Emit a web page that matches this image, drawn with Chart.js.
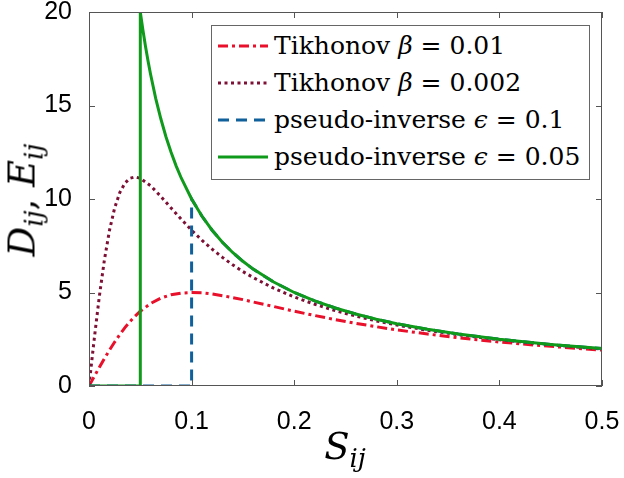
<!DOCTYPE html>
<html>
<head>
<meta charset="utf-8">
<script src="https://cdn.jsdelivr.net/npm/chart.js@4"></script>
<style>
  body { margin: 0; background: #fff; }
  #wrap { position: relative; width: 624px; height: 478px; }
  #c { position: absolute; left: 0; top: 0; }
  .title { position: absolute; font-family: "DejaVu Serif", serif; font-style: italic; color: #000; white-space: nowrap; line-height: 1; }
  .title sub { font-size: 0.7em; vertical-align: -0.3em; line-height: 0; }
  #ytitle { left: 22px; top: 200px; font-size: 37px; transform: translate(-50%, -50%) rotate(-90deg); }
  #xtitle { left: 345px; top: 428px; font-size: 37px; transform: translateX(-50%); }
  #legend { position: absolute; left: 211px; top: 25px; width: 379px; height: 155px; border: 1px solid #666; background: #fff; padding-top: 1px; box-sizing: border-box; }
  .row { height: 37px; display: flex; align-items: center; white-space: nowrap; }
  .row span { font-family: "DejaVu Serif", serif; font-size: 25px; color: #000; }
  .row svg { margin-left: 6px; margin-right: 6px; flex: none; }
</style>
</head>
<body>
<div id="wrap">
  <canvas id="c" width="624" height="478"></canvas>
  <div id="ytitle" class="title">D<sub>ij</sub><span style="font-style:normal">,</span> E<sub>ij</sub></div>
  <div id="xtitle" class="title">S<sub>ij</sub></div>
  <div id="legend"></div>
</div>
<script>
// axis ticks
const xTicks = [0, 0.1, 0.2, 0.3, 0.4, 0.5];
const yTicks = [0, 5, 10, 15, 20];

// Tikhonov curves
const sTik = [0, 0.005, 0.01, 0.015, 0.02, 0.025, 0.03, 0.035, 0.04, 0.045, 0.05, 0.06, 0.07, 0.08, 0.09, 0.1,
  0.11, 0.12, 0.13, 0.14, 0.15, 0.16, 0.18, 0.2, 0.22, 0.24, 0.26, 0.28, 0.3, 0.33, 0.36, 0.4, 0.45, 0.5];
const tikBeta01 = [0, 0.50, 0.99, 1.47, 1.92, 2.35, 2.75, 3.12, 3.45, 3.74, 4.00, 4.41, 4.70, 4.88, 4.97, 5.00,
  4.98, 4.92, 4.83, 4.73, 4.62, 4.49, 4.25, 4.00, 3.77, 3.55, 3.35, 3.17, 3.00, 2.78, 2.58, 2.35, 2.12, 1.92];
const tikBeta002 = [0, 2.47, 4.76, 6.74, 8.33, 9.52, 10.34, 10.85, 11.11, 11.18, 11.11, 10.71, 10.14, 9.52, 8.91, 8.33,
  7.80, 7.32, 6.88, 6.48, 6.12, 5.80, 5.23, 4.76, 4.37, 4.03, 3.74, 3.48, 3.26, 2.98, 2.74, 2.47, 2.20, 1.98];

// pseudo-inverse eps = 0.1
const sPinv01 = [0, 0.1, 0.1, 0.11, 0.12, 0.13, 0.14, 0.15, 0.16, 0.18, 0.2, 0.22, 0.24, 0.26, 0.28, 0.3, 0.33, 0.36, 0.4, 0.45, 0.5];
const pinv01 = [0, 0, 10, 9.09, 8.33, 7.69, 7.14, 6.67, 6.25, 5.56, 5.00, 4.55, 4.17, 3.85, 3.57, 3.33, 3.03, 2.78, 2.50, 2.22, 2.00];

// pseudo-inverse eps = 0.05
const sPinv005 = [0, 0.05, 0.05, 0.0525, 0.055, 0.0575, 0.06, 0.065, 0.07, 0.075, 0.08, 0.085, 0.09, 0.1, 0.11, 0.12, 0.13, 0.14,
  0.15, 0.16, 0.18, 0.2, 0.22, 0.24, 0.26, 0.28, 0.3, 0.33, 0.36, 0.4, 0.45, 0.5];
const pinv005 = [0, 0, 20, 19.05, 18.18, 17.39, 16.67, 15.38, 14.29, 13.33, 12.50, 11.76, 11.11, 10.00, 9.09, 8.33, 7.69, 7.14,
  6.67, 6.25, 5.56, 5.00, 4.55, 4.17, 3.85, 3.57, 3.33, 3.03, 2.78, 2.50, 2.22, 2.00];

const seriesNames = ["Tikhonov", "Tikhonov", "pseudo-inverse", "pseudo-inverse"];
const seriesSymbols = ["β", "β", "ϵ", "ϵ"];
const seriesParams = ["0.01", "0.002", "0.1", "0.05"];
const seriesColors = ["#e8102a", "#7d1035", "#10609c", "#109a1c"];
const seriesDashes = [[10, 4, 3, 4], [3, 3.5], [11, 7], []];

const xs = [sTik, sTik, sPinv01, sPinv005];
const ys = [tikBeta01, tikBeta002, pinv01, pinv005];

const datasets = xs.map((sx, k) => ({
  label: seriesNames[k] + " " + seriesSymbols[k] + " = " + seriesParams[k],
  data: sx.map((s, i) => ({ x: s, y: ys[k][i] })),
  borderColor: seriesColors[k],
  borderWidth: 3,
  borderDash: seriesDashes[k],
  showLine: true,
  pointRadius: 0,
  tension: 0,
  order: 4 - k
}));

// legend as html
const legend = document.getElementById("legend");
seriesNames.forEach((name, k) => {
  const row = document.createElement("div");
  row.className = "row";
  const dash = seriesDashes[k].length ? seriesDashes[k].join(" ") : "none";
  row.innerHTML = '<svg width="50" height="10"><line x1="0" y1="5" x2="50" y2="5" stroke="' + seriesColors[k] +
    '" stroke-width="3" stroke-dasharray="' + dash + '"/></svg>' +
    '<span>' + name + ' <i>' + seriesSymbols[k] + '</i> = ' + seriesParams[k] + '</span>';
  legend.appendChild(row);
});

// box around the axes plus inward ticks on all sides
const framePlugin = {
  id: "frame",
  afterDraw(chart) {
    const ctx = chart.ctx, a = chart.chartArea;
    const sx = chart.scales.x, sy = chart.scales.y;
    ctx.save();
    ctx.strokeStyle = "#555";
    ctx.lineWidth = 1;
    ctx.strokeRect(a.left + 0.5, a.top + 0.5, a.right - a.left - 1, a.bottom - a.top - 1);
    ctx.beginPath();
    xTicks.forEach(v => {
      const p = Math.round(sx.getPixelForValue(v)) + 0.5;
      ctx.moveTo(p, a.bottom); ctx.lineTo(p, a.bottom - 6);
      ctx.moveTo(p, a.top); ctx.lineTo(p, a.top + 6);
    });
    yTicks.forEach(v => {
      const p = Math.round(sy.getPixelForValue(v)) + 0.5;
      ctx.moveTo(a.left, p); ctx.lineTo(a.left + 6, p);
      ctx.moveTo(a.right, p); ctx.lineTo(a.right - 6, p);
    });
    ctx.stroke();
    ctx.restore();
  }
};

const tickFont = { family: "'Liberation Sans', Arial, sans-serif", size: 25 };

new Chart(document.getElementById("c").getContext("2d"), {
  type: "scatter",
  data: { datasets: datasets },
  options: {
    responsive: false,
    animation: false,
    layout: { padding: { left: 0, top: 12, right: 22, bottom: 0 } },
    plugins: { legend: { display: false }, tooltip: { enabled: false } },
    scales: {
      x: {
        type: "linear", min: 0, max: 0.5,
        afterBuildTicks: s => { s.ticks = xTicks.map(v => ({ value: v })); },
        afterFit: s => { s.height = 92; s.paddingLeft = 0; s.paddingRight = 0; },
        ticks: { font: tickFont, color: "#000", padding: 13, maxRotation: 0, callback: v => String(v) },
        grid: { display: false },
        border: { display: false }
      },
      y: {
        type: "linear", min: 0, max: 20,
        afterBuildTicks: s => { s.ticks = yTicks.map(v => ({ value: v })); },
        afterFit: s => { s.width = 89; s.paddingTop = 0; s.paddingBottom = 0; },
        ticks: { font: tickFont, color: "#000", padding: 9, callback: v => String(v) },
        grid: { display: false },
        border: { display: false }
      }
    }
  },
  plugins: [framePlugin]
});
</script>
</body>
</html>
